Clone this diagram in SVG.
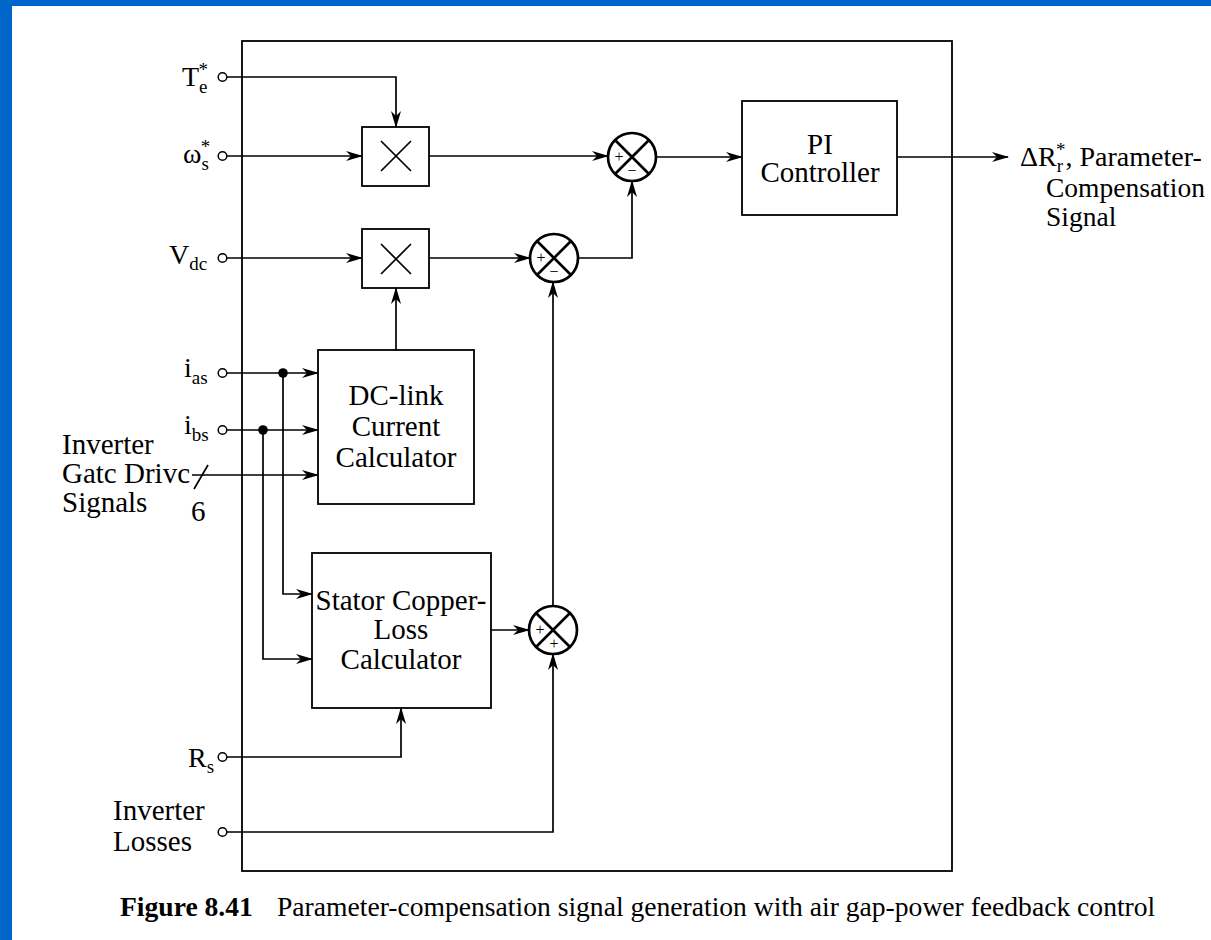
<svg xmlns="http://www.w3.org/2000/svg" width="1211" height="940" viewBox="0 0 1211 940">
<style>
.t{font-family:"Liberation Serif","Times New Roman",serif;font-size:29px;fill:#000}
.l{font-family:"Liberation Serif","Times New Roman",serif;font-size:28px;fill:#000}
.r{font-family:"Liberation Serif","Times New Roman",serif;font-size:27.5px;fill:#000}
.s{font-size:19px}
.cap{font-family:"Liberation Serif","Times New Roman",serif;font-size:27.6px;fill:#000}
.g{font-family:"Liberation Serif","Times New Roman",serif;font-size:16px;fill:#000}
.c{text-anchor:middle}
.box{fill:none;stroke:#000;stroke-width:1.8}
.w{fill:none;stroke:#000;stroke-width:1.7}
.sum{fill:#fff;stroke:#000;stroke-width:2.7}
.port{fill:#fff;stroke:#000;stroke-width:1.5}
</style>
<defs>
<marker id="ah" viewBox="0 0 17 10" refX="16" refY="5" markerWidth="17" markerHeight="10" orient="auto" markerUnits="userSpaceOnUse">
<path d="M0,0 L17,5 L0,10 L5,5 z" fill="#000"/>
</marker>
</defs>
<rect x="0" y="0" width="1211" height="940" fill="#0066CC"/>
<rect x="12" y="6" width="1199" height="934" fill="#fff"/>
<rect id="frame" class="box" x="242" y="41" width="710" height="830"/>

<g id="connectors" class="w">
<path d="M227,77 H396 V127" marker-end="url(#ah)"/>
<path d="M227,156 H362" marker-end="url(#ah)"/>
<path d="M227,258 H362" marker-end="url(#ah)"/>
<path d="M429,156 H608" marker-end="url(#ah)"/>
<path d="M429,258 H530" marker-end="url(#ah)"/>
<path d="M578,258 H632 V181" marker-end="url(#ah)"/>
<path d="M656,157 H742" marker-end="url(#ah)"/>
<path d="M897,157 H1008" marker-end="url(#ah)"/>
<path d="M396,350 V288" marker-end="url(#ah)"/>
<path d="M227,373 H318" marker-end="url(#ah)"/>
<path d="M227,430 H318" marker-end="url(#ah)"/>
<path d="M192,475 H318" marker-end="url(#ah)"/>
<path d="M194,489 L208,465"/>
<path d="M283,373 V594 H312" marker-end="url(#ah)"/>
<path d="M263,430 V659 H312" marker-end="url(#ah)"/>
<path d="M491,630 H529" marker-end="url(#ah)"/>
<path d="M553,606 V282" marker-end="url(#ah)"/>
<path d="M227,757 H401 V708" marker-end="url(#ah)"/>
<path d="M227,832 H553 V654" marker-end="url(#ah)"/>
<circle cx="283" cy="373" r="4.8" fill="#000" stroke="none"/>
<circle cx="263" cy="430" r="4.8" fill="#000" stroke="none"/>
</g>

<g id="in-Te">
<circle class="port" cx="222.5" cy="77" r="4.3"/>
<text class="l" x="182" y="86">T<tspan class="s" dy="7">e</tspan><tspan class="s" dx="-9" dy="-17">*</tspan></text>
</g>
<g id="in-ws">
<circle class="port" cx="222.5" cy="156" r="4.3"/>
<text class="l" x="183" y="163">ω<tspan class="s" dy="7">s</tspan><tspan class="s" dx="-8" dy="-17">*</tspan></text>
</g>
<g id="in-Vdc">
<circle class="port" cx="222.5" cy="258" r="4.3"/>
<text class="l" x="169" y="264">V<tspan class="s" dy="6">dc</tspan></text>
</g>
<g id="in-ias">
<circle class="port" cx="222.5" cy="373" r="4.3"/>
<text class="l" x="184" y="377">i<tspan class="s" dy="7">as</tspan></text>
</g>
<g id="in-ibs">
<circle class="port" cx="222.5" cy="430" r="4.3"/>
<text class="l" x="184" y="434">i<tspan class="s" dy="7">bs</tspan></text>
</g>
<g id="in-gate">
<text class="t" x="62" y="454">Inverter</text>
<text class="t" x="62" y="483">Gatc Drivc</text>
<text class="t" x="62" y="512">Signals</text>
<text class="t" x="191" y="521">6</text>
</g>
<g id="in-Rs">
<circle class="port" cx="222.5" cy="757" r="4.3"/>
<text class="l" x="188" y="767">R<tspan class="s" dy="6">s</tspan></text>
</g>
<g id="in-loss">
<circle class="port" cx="222.5" cy="832" r="4.3"/>
<text class="t" x="113" y="820">Inverter</text>
<text class="t" x="113" y="851">Losses</text>
</g>

<g id="mult1">
<rect class="box" x="362" y="127" width="67" height="59" fill="#fff"/>
<path class="w" d="M381,141 L411,171 M411,141 L381,171"/>
</g>
<g id="mult2">
<rect class="box" x="362" y="229" width="67" height="59" fill="#fff"/>
<path class="w" d="M381,244 L411,274 M411,244 L381,274"/>
</g>

<g id="dclink">
<rect class="box" x="318" y="350" width="156" height="154"/>
<text class="t c" x="396" y="405">DC-link</text>
<text class="t c" x="396" y="436">Current</text>
<text class="t c" x="396" y="467">Calculator</text>
</g>
<g id="stator">
<rect class="box" x="312" y="553" width="179" height="155"/>
<text class="t c" x="401" y="610">Stator Copper-</text>
<text class="t c" x="401" y="639">Loss</text>
<text class="t c" x="401" y="669">Calculator</text>
</g>
<g id="pi">
<rect class="box" x="742" y="101" width="155" height="114"/>
<text class="t c" x="820" y="154">PI</text>
<text class="t c" x="820" y="182">Controller</text>
</g>

<g id="sum1">
<circle class="sum" cx="632" cy="157" r="24"/>
<path class="sum" d="M615,140 L649,174 M649,140 L615,174"/>
<text class="g c" x="619" y="162">+</text>
<text class="g c" x="632" y="176">−</text>
</g>
<g id="sum2">
<circle class="sum" cx="554" cy="258" r="24"/>
<path class="sum" d="M537,241 L571,275 M571,241 L537,275"/>
<text class="g c" x="541" y="263">+</text>
<text class="g c" x="554" y="277">−</text>
</g>
<g id="sum3">
<circle class="sum" cx="553" cy="630" r="24"/>
<path class="sum" d="M536,613 L570,647 M570,613 L536,647"/>
<text class="g c" x="540" y="635">+</text>
<text class="g c" x="554" y="649">+</text>
</g>

<g id="out">
<text class="l" x="1020" y="166">ΔR<tspan class="s" dy="6">r</tspan><tspan class="s" dx="-7" dy="-16">*</tspan><tspan dy="10">, Parameter-</tspan></text>
<text class="r" x="1046" y="197">Compensation</text>
<text class="r" x="1046" y="226">Signal</text>
</g>

<g id="caption">
<text class="cap" x="120" y="916" font-weight="bold">Figure 8.41</text>
<text class="cap" x="277" y="916">Parameter-compensation signal generation with air gap-power feedback control</text>
</g>
</svg>
